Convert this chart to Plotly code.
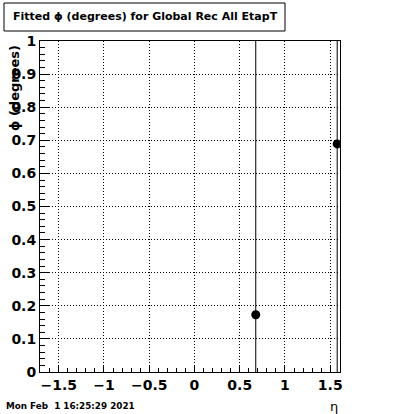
import plotly.graph_objects as go

eta = [0.677, 1.577]
phi = [0.173, 0.689]
phi_err = [1.0, 1.0]

x_ticks = [-1.5, -1, -0.5, 0, 0.5, 1, 1.5]
x_tick_labels = ["\u22121.5", "\u22121", "\u22120.5", "0", "0.5", "1", "1.5"]
y_ticks = [0, 0.1, 0.2, 0.3, 0.4, 0.5, 0.6, 0.7, 0.8, 0.9, 1]
y_tick_labels = ["0", "0.1", "0.2", "0.3", "0.4", "0.5", "0.6", "0.7", "0.8", "0.9", "1"]

title_text = "Fitted \u03d5 (degrees) for Global Rec All EtapT"
date_text = "Mon Feb  1 16:25:29 2021"

FONT = "DejaVu Sans"

fig = go.Figure()
fig.add_trace(go.Scatter(
    x=eta, y=phi, mode="markers",
    marker=dict(color="black", size=9, symbol="circle"),
    error_y=dict(type="data", array=phi_err, visible=True, color="black", thickness=1, width=0),
    showlegend=False,
))

L, R, T, B = 40, 60, 41, 42
W, H = 400, 414
pw, ph = W - L - R, H - T - B

def px(x):
    return (x - L) / pw

def py(y):
    return (H - B - y) / ph

fig.update_layout(
    width=W, height=H,
    margin=dict(l=L, r=R, t=T, b=B),
    paper_bgcolor="white", plot_bgcolor="white",
    font=dict(family=FONT, color="black"),
    xaxis=dict(
        range=[-1.707, 1.608], tickmode="array", tickvals=x_ticks, ticktext=x_tick_labels,
        ticks="inside", ticklen=7, tickwidth=1, tickcolor="black",
        showline=True, linecolor="black", linewidth=1, mirror=True,
        showgrid=True, gridcolor="black", griddash="1px,2px", gridwidth=1,
        zeroline=False,
        tickfont=dict(family=FONT, size=14, weight="bold"),
        minor=dict(dtick=0.1, tick0=0, ticks="inside", ticklen=4, tickcolor="black", showgrid=False),
    ),
    yaxis=dict(
        range=[0, 1], tickmode="array", tickvals=y_ticks, ticktext=y_tick_labels,
        ticks="inside", ticklen=9, tickwidth=1, tickcolor="black",
        showline=True, linecolor="black", linewidth=1, mirror=True,
        showgrid=True, gridcolor="black", griddash="1px,2px", gridwidth=1,
        zeroline=False,
        tickfont=dict(family=FONT, size=14, weight="bold"),
        minor=dict(dtick=0.02, tick0=0, ticks="inside", ticklen=5, tickcolor="black", showgrid=False),
    ),
)

fig.add_shape(type="rect", xref="paper", yref="paper",
              x0=px(4), x1=px(285), y0=py(31), y1=py(3),
              line=dict(color="black", width=1), fillcolor="white")

fig.add_annotation(text=title_text, xref="paper", yref="paper",
                   x=px(11), y=py(17), xanchor="left", yanchor="middle",
                   showarrow=False, font=dict(family=FONT, size=11, weight="bold"))

fig.add_annotation(text=date_text, xref="paper", yref="paper",
                   x=px(4), y=py(406), xanchor="left", yanchor="middle",
                   showarrow=False, font=dict(family=FONT, size=8.8, weight="bold"))

fig.add_annotation(text="\u03b7", xref="paper", yref="paper",
                   x=px(340), y=py(406), xanchor="right", yanchor="middle",
                   showarrow=False, font=dict(family=FONT, size=13))

fig.add_annotation(text="\u03d5 (degrees)", xref="paper", yref="paper",
                   x=px(15), y=py(43), xanchor="center", yanchor="top", textangle=-90,
                   showarrow=False, font=dict(family=FONT, size=13, weight="bold"))

fig.write_html("out.html", config={"displayModeBar": False},
               post_script="document.body.style.margin='0px';document.body.style.padding='0px';")
